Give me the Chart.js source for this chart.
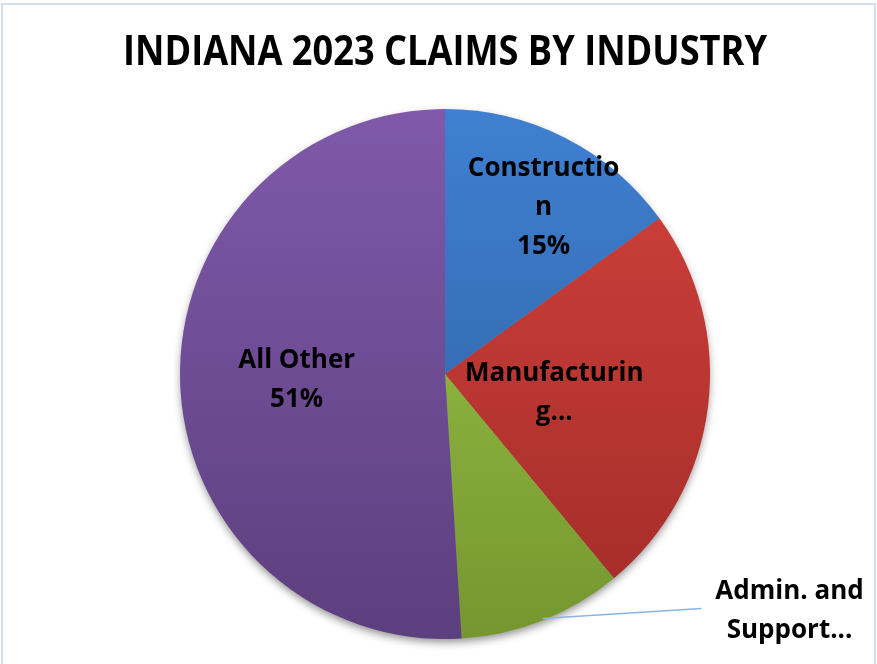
<!DOCTYPE html>
<html>
<head>
<meta charset="utf-8">
<script src="https://cdn.jsdelivr.net/npm/chart.js@4.4.1/dist/chart.umd.min.js"></script>
<style>
  html, body { margin: 0; padding: 0; background: #fff; }
  #wrap { position: relative; width: 877px; height: 664px; }
</style>
</head>
<body>
<div id="wrap"><canvas id="claims" width="877" height="664"></canvas></div>
<script>
((document, Chart) => {
  /* Data */
  const chartTitle = 'INDIANA 2023 CLAIMS BY INDUSTRY';
  const industries = ['Construction', 'Manufacturing', 'Admin. and Support Services', 'All Other'];
  const sharePct = [15, 24, 10, 51];
  // label text as it wraps inside each slice
  const labelLines = [
    ['Constructio', 'n', '15%'],
    ['Manufacturin', 'g...'],
    ['Admin. and', 'Support...'],
    ['All Other', '51%'],
  ];
  const topColors = ['#3f80d2', '#d3423c', '#9dca4b', '#8059aa'];
  const bottomColors = ['#2c5c99', '#a22b28', '#76962f', '#5c3f7e'];

  const FONT = '"Open Sans", Lato, sans-serif';

  /* Vertical gradient across the whole pie, one per slice colour */
  const sliceFill = (ctx) => {
    const { chart, dataIndex } = ctx;
    const area = chart.chartArea;
    if (!area) return topColors[dataIndex];
    const g = chart.ctx.createLinearGradient(0, area.top, 0, area.bottom);
    g.addColorStop(0, topColors[dataIndex]);
    g.addColorStop(1, bottomColors[dataIndex]);
    return g;
  };

  /* Outer frame and title */
  const framePlugin = {
    id: 'frame',
    beforeDraw(chart) {
      const { ctx } = chart;
      ctx.save();
      ctx.strokeStyle = '#d5dfea';
      ctx.lineWidth = 2;
      ctx.strokeRect(2, 4, 873, 700);
      ctx.fillStyle = '#000';
      ctx.font = `bold 41px ${FONT}`;
      ctx.textAlign = 'center';
      ctx.textBaseline = 'middle';
      // squeezed a little so the heading keeps its narrow look
      ctx.fillText(chartTitle, 445, 53, 644);
      ctx.restore();
    },
  };

  /* Soft shadow under the pie */
  const shadowPlugin = {
    id: 'pieShadow',
    beforeDatasetsDraw(chart) {
      const arc = chart.getDatasetMeta(0).data[0];
      if (!arc) return;
      const { ctx } = chart;
      ctx.save();
      ctx.shadowColor = 'rgba(0,0,0,0.45)';
      ctx.shadowBlur = 9;
      ctx.shadowOffsetY = 4;
      ctx.fillStyle = '#888';
      ctx.beginPath();
      ctx.arc(arc.x, arc.y, arc.outerRadius - 1, 0, Math.PI * 2);
      ctx.fill();
      ctx.restore();
    },
  };

  // radial position (fraction of radius) and nudges for each label
  const labelPlace = [
    { r: 0.72, dx: 12, dy: 4 },
    { r: 0.37, dx: 12, dy: 7 },
    { r: 1.0, dx: 0, dy: 0 },
    { r: 0.56, dx: 0, dy: 1 },
  ];

  const labelsPlugin = {
    id: 'sliceLabels',
    afterDatasetsDraw(chart) {
      const { ctx } = chart;
      const meta = chart.getDatasetMeta(0);
      ctx.save();
      ctx.fillStyle = '#000';
      ctx.font = `bold 26px ${FONT}`;
      ctx.textAlign = 'center';
      ctx.textBaseline = 'middle';
      const lineH = 39;
      meta.data.forEach((arc, i) => {
        const mid = (arc.startAngle + arc.endAngle) / 2;
        const p = labelPlace[i];
        const lines = labelLines[i];
        let cx;
        let cy;
        if (i === 2) {
          // outside label with leader line
          const ex = arc.x + Math.cos(mid) * arc.outerRadius;
          const ey = arc.y + Math.sin(mid) * arc.outerRadius;
          ctx.save();
          ctx.strokeStyle = '#8db3e2';
          ctx.lineWidth = 1.5;
          ctx.beginPath();
          ctx.moveTo(ex, ey - 2);
          ctx.lineTo(ex + 159, ey - 12);
          ctx.stroke();
          ctx.restore();
          cx = ex + 247;
          cy = ey - 9;
        } else {
          cx = arc.x + Math.cos(mid) * arc.outerRadius * p.r + p.dx;
          cy = arc.y + Math.sin(mid) * arc.outerRadius * p.r + p.dy;
        }
        const top = cy - ((lines.length - 1) * lineH) / 2;
        lines.forEach((t, k) => ctx.fillText(t, cx, top + k * lineH));
      });
      ctx.restore();
    },
  };

  const initChart = () => {
    const canvas = document.getElementById('claims');
    return new Chart(canvas, {
      type: 'pie',
      data: {
        labels: industries,
        datasets: [{
          data: sharePct,
          backgroundColor: sliceFill,
          borderWidth: 0,
        }],
      },
      options: {
        responsive: false,
        animation: false,
        events: [],
        layout: { padding: { left: 180, right: 167, top: 109, bottom: 25 } },
        plugins: {
          legend: { display: false },
          tooltip: { enabled: false },
          title: { display: false },
        },
      },
      plugins: [framePlugin, shadowPlugin, labelsPlugin],
    });
  };

  document.fonts.load(`bold 41px ${FONT}`).then(initChart, initChart);
})(document, Chart);
</script>
</body>
</html>
